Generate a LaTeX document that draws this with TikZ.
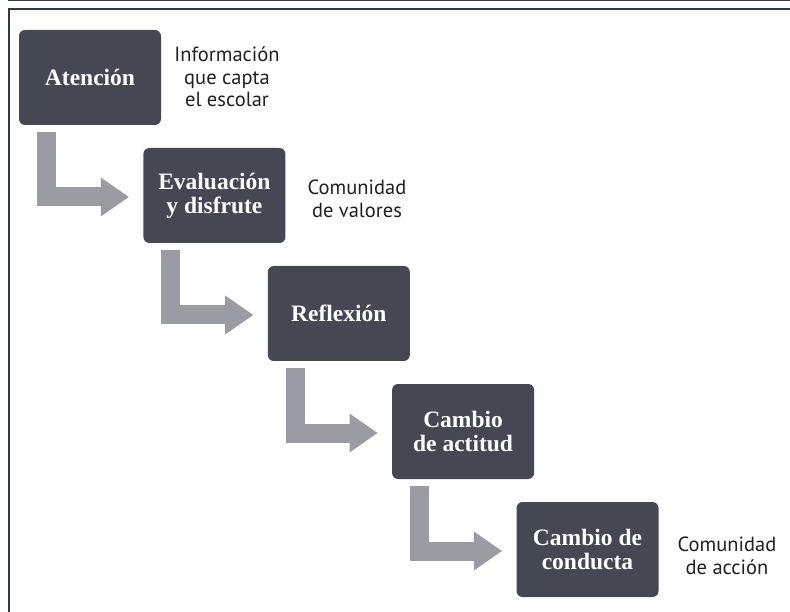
\documentclass[tikz,border=0pt]{standalone}
\usepackage{fontspec}
\newfontfamily\sidefont{PT Sans}
\newfontfamily\stagefont{Liberation Serif}
\usetikzlibrary{arrows.meta}
\definecolor{boxfill}{HTML}{454852}
\definecolor{arrowgray}{HTML}{9B9BA3}
\definecolor{framecol}{HTML}{2E3B44}
\definecolor{sidetext}{HTML}{231F20}
\begin{document}
\begin{tikzpicture}[x=1pt,y=-1pt,
  stage/.style={fill=boxfill, rounded corners=6pt, minimum width=142pt, minimum height=95pt,
    inner sep=0pt, text=white, align=center, font=\stagefont\bfseries\fontsize{23.5}{24}\selectfont},
  note/.style={align=center, text=sidetext, inner sep=0pt,
    font=\sidefont\fontsize{20.5}{22.5}\selectfont},
  flow/.style={draw=arrowgray, line width=19pt, line join=miter,
    -{Triangle[length=28pt,width=39pt,line width=0pt,fill=arrowgray]}},
  framerule/.style={draw=framecol}]
\useasboundingbox (0,0) rectangle (790,612);
% frame
\draw[framerule, line width=1.5pt] (8,0.75) -- (790,0.75);
\draw[framerule, line width=2pt] (8.5,612) -- (8.5,9.5) -- (790,9.5);
% stages
\node[stage] (s1) at (90,77.5) {Atención};
\node[stage] (s2) at (214.4,195.5) {Evaluación\\y disfrute};
\node[stage] (s3) at (338.8,313.5) {Reflexión};
\node[stage] (s4) at (463.1,431.5) {Cambio\\de actitud};
\node[stage] (s5) at (587.5,549.5) {Cambio de\\conducta};
% notes
\node[note] (n1) at (227,77) {Información\\que capta\\el escolar};
\node[note] (n2) at (357,199) {Comunidad\\de valores};
\node[note] (n5) at (727,556) {Comunidad\\de acción};
% arrows
\draw[flow] ([xshift=27.5pt,yshift=-7pt]s1.south west) |- ([xshift=-14.4pt,yshift=-1.5pt]s2.west);
\draw[flow] ([xshift=27.5pt,yshift=-7pt]s2.south west) |- ([xshift=-14.4pt,yshift=-1.5pt]s3.west);
\draw[flow] ([xshift=27.5pt,yshift=-7pt]s3.south west) |- ([xshift=-14.4pt,yshift=-1.5pt]s4.west);
\draw[flow] ([xshift=27.5pt,yshift=-7pt]s4.south west) |- ([xshift=-14.4pt,yshift=-1.5pt]s5.west);
\end{tikzpicture}
\end{document}
